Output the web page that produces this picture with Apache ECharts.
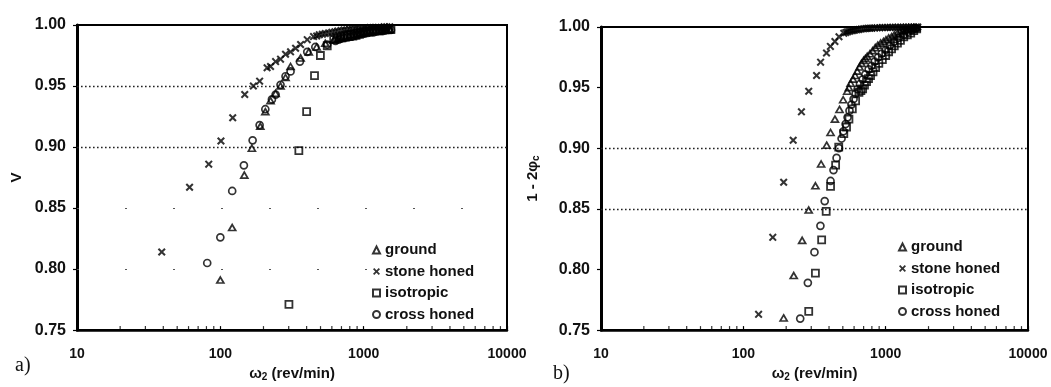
<!DOCTYPE html>
<html>
<head>
<meta charset="utf-8">
<script src="https://cdn.jsdelivr.net/npm/echarts@6/dist/echarts.min.js"></script>
<style>
  html, body { margin: 0; padding: 0; background: #fff; }
  #chart { width: 1051px; height: 387px; }
</style>
</head>
<body>
<div id="chart"></div>
<script>
// Panel a): visibility V against shaft speed ω2 (rev/min), [speed, V]
const aGround = [[100,0.791],[121,0.834],[147,0.877],[166,0.899],[190,0.917],[206,0.929],[224,0.938],[243,0.944],[263,0.950],[285,0.957],[309,0.966],[363,0.973],[414,0.978],[470,0.982],[540,0.985],[620,0.988],[660,0.9885],[700,0.989],[745,0.9895],[790,0.990],[835,0.9905],[880,0.991],[930,0.992],[980,0.993],[1030,0.9935],[1090,0.994],[1140,0.9945],[1200,0.995],[1265,0.995],[1330,0.9955],[1400,0.996],[1460,0.996],[1530,0.996]];
const aStone = [[39,0.814],[61,0.867],[83,0.886],[101,0.905],[122,0.924],[148,0.943],[170,0.950],[188,0.954],[212,0.965],[224,0.966],[243,0.970],[263,0.972],[285,0.976],[309,0.978],[335,0.981],[363,0.984],[404,0.988],[447,0.9905],[470,0.991],[490,0.992],[515,0.9925],[540,0.993],[570,0.9935],[600,0.994],[630,0.9945],[660,0.995],[695,0.9955],[730,0.996],[765,0.996],[800,0.9965],[840,0.9965],[880,0.997],[925,0.997],[970,0.997],[1015,0.9975],[1060,0.9975],[1110,0.998],[1160,0.998],[1215,0.998],[1270,0.998],[1330,0.998],[1390,0.9985],[1450,0.9985],[1520,0.9985]];
const aIso = [[301,0.771],[353,0.897],[400,0.929],[454,0.9585],[499,0.975],[557,0.983],[618,0.988],[650,0.989],[690,0.990],[730,0.991],[770,0.992],[815,0.9925],[860,0.993],[905,0.9935],[950,0.994],[1000,0.9945],[1050,0.995],[1100,0.995],[1160,0.9955],[1220,0.9955],[1290,0.996],[1350,0.996],[1420,0.996],[1490,0.9965],[1550,0.9965]];
const aCross = [[81,0.805],[100,0.826],[121,0.864],[146,0.885],[168,0.9055],[188,0.918],[206,0.931],[229,0.939],[243,0.943],[263,0.951],[285,0.958],[309,0.962],[359,0.970],[404,0.978],[460,0.982],[557,0.984],[636,0.987],[670,0.988],[700,0.989],[735,0.9895],[770,0.990],[810,0.9905],[850,0.991],[890,0.9915],[930,0.992],[975,0.9925],[1020,0.993],[1070,0.9935],[1120,0.994],[1170,0.994],[1230,0.9945],[1290,0.995],[1350,0.995],[1410,0.9955],[1480,0.996],[1550,0.996]];

// Panel b): 1 - 2φc against shaft speed ω2 (rev/min)
const bGround = [[192,0.760],[226,0.795],[259,0.824],[288,0.849],[321,0.869],[352,0.887],[385,0.9025],[410,0.913],[440,0.924],[474,0.932],[503,0.940],[537,0.947],[552,0.950],[567,0.9536],[590,0.957],[610,0.960],[632,0.9636],[655,0.967],[676,0.970],[700,0.9725],[720,0.974],[742,0.9758],[775,0.978],[809,0.9805],[845,0.983],[880,0.985],[922,0.9867],[965,0.988],[1005,0.9895],[1049,0.991],[1100,0.992],[1150,0.9935],[1207,0.9949],[1265,0.996],[1325,0.997],[1383,0.9976],[1445,0.998],[1510,0.9985],[1574,0.9989],[1640,0.9992]];
const bStone = [[128,0.763],[161,0.8265],[192,0.872],[224,0.9066],[256,0.930],[288,0.947],[327,0.960],[349,0.971],[384,0.9786],[409,0.984],[440,0.988],[470,0.992],[508,0.9948],[525,0.9955],[540,0.996],[558,0.9965],[575,0.997],[592,0.9972],[610,0.9975],[630,0.9978],[650,0.998],[675,0.9983],[700,0.9985],[725,0.9987],[750,0.999],[775,0.999],[800,0.999],[835,0.9992],[870,0.9993],[910,0.9994],[950,0.9995],[990,0.9995],[1030,0.9996],[1075,0.9996],[1120,0.9997],[1170,0.9997],[1220,0.9998],[1275,0.9998],[1330,0.9998],[1390,0.9999],[1450,0.9999],[1515,0.9999],[1580,0.9999],[1640,1.0],[1680,1.0]];
const bIso = [[288,0.7655],[321,0.797],[355,0.8244],[382,0.848],[410,0.8686],[445,0.886],[468,0.901],[508,0.912],[531,0.9175],[552,0.924],[583,0.9324],[615,0.939],[649,0.946],[670,0.9475],[689,0.949],[710,0.952],[734,0.955],[758,0.9575],[783,0.960],[815,0.963],[850,0.9666],[895,0.970],[948,0.9731],[1000,0.9765],[1049,0.9796],[1100,0.982],[1150,0.9845],[1210,0.9867],[1270,0.989],[1340,0.9919],[1420,0.9935],[1500,0.9949],[1575,0.997],[1652,0.9985]];
const bCross = [[251,0.7595],[284,0.789],[316,0.8143],[348,0.836],[373,0.8564],[410,0.873],[430,0.882],[452,0.892],[470,0.900],[490,0.908],[505,0.914],[523,0.920],[540,0.9255],[557,0.931],[575,0.936],[595,0.9406],[615,0.945],[635,0.9487],[660,0.953],[689,0.9568],[720,0.961],[759,0.965],[795,0.968],[837,0.9715],[885,0.975],[938,0.978],[1000,0.981],[1067,0.9845],[1150,0.988],[1235,0.991],[1330,0.9935],[1430,0.9959],[1525,0.9975],[1625,0.9988]];

const seriesNames = ['ground', 'stone honed', 'isotropic', 'cross honed'];
const aGuideLevels = [0.95, 0.90];
const aFaintLevels = [0.85, 0.80];
const bGuideLevels = [0.90, 0.85];
const minorTickValues = [20,30,40,50,60,70,80,90,200,300,400,500,600,700,800,900,2000,3000,4000,5000,6000,7000,8000,9000];

const FONT = '"Liberation Sans", Arial, sans-serif';
const CROSS = 'path://M0,1.8L1.8,0L5,3.2L8.2,0L10,1.8L6.8,5L10,8.2L8.2,10L5,6.8L1.8,10L0,8.2L3.2,5Z';
const HOLLOW = 'rgba(255,255,255,0)';

const symbolStyles = {
  'ground':      { symbol: 'triangle', symbolSize: [7, 6], itemStyle: { color: HOLLOW, borderColor: '#000', borderWidth: 1.7 } },
  'stone honed': { symbol: CROSS, symbolSize: 8, itemStyle: { color: '#000', borderWidth: 0 } },
  'isotropic':   { symbol: 'rect', symbolSize: 7, itemStyle: { color: HOLLOW, borderColor: '#000', borderWidth: 1.8 } },
  'cross honed': { symbol: 'circle', symbolSize: 7, itemStyle: { color: HOLLOW, borderColor: '#000', borderWidth: 1.7 } }
};

function scatter(name, data, idx) {
  const s = symbolStyles[name];
  return Object.assign({
    type: 'scatter', name: name, data: data,
    xAxisIndex: idx, yAxisIndex: idx, z: 5
  }, s);
}

function guides(levels, idx, faint) {
  return {
    type: 'line', data: [], xAxisIndex: idx, yAxisIndex: idx, silent: true,
    markLine: {
      silent: true, symbol: 'none', animation: false,
      label: { show: false },
      lineStyle: faint
        ? { color: '#555', width: 1.2, type: [2, 46] }
        : { color: '#222', width: 1.3, type: [1.6, 2.4] },
      data: levels.map(v => ({ yAxis: v }))
    }
  };
}

function minorTicks(idx) {
  return {
    type: 'scatter', xAxisIndex: idx, yAxisIndex: idx, silent: true,
    symbol: 'rect', symbolSize: [1.2, 4], symbolOffset: [0, -2],
    itemStyle: { color: '#000' }, z: 6,
    data: minorTickValues.map(v => [v, 0.75])
  };
}

function xAxis(idx) {
  return {
    type: 'log', logBase: 10, min: 10, max: 10000, gridIndex: idx,
    name: 'ω{sub|2} (rev/min)', nameLocation: 'middle', nameGap: 33,
    nameTextStyle: {
      fontFamily: FONT, fontSize: 15, fontWeight: 'bold', color: '#111',
      rich: { sub: { fontFamily: FONT, fontSize: 10, fontWeight: 'bold', color: '#111', padding: [7, 0, 0, 0] } }
    },
    axisLine: { show: true, lineStyle: { color: '#000', width: 2.5 } },
    axisTick: { show: true, inside: true, length: 4, lineStyle: { color: '#000', width: 1.2 } },
    axisLabel: { fontFamily: FONT, fontSize: 14, fontWeight: 'bold', color: '#111', margin: 17,
                 formatter: v => String(Math.round(v)) },
    splitLine: { show: false }
  };
}

function yAxis(idx, name, gap) {
  return {
    type: 'value', min: 0.75, max: 1.0, interval: 0.05, gridIndex: idx,
    name: name, nameLocation: 'middle', nameRotate: 90, nameGap: gap,
    nameTextStyle: {
      fontFamily: FONT, fontSize: 15, fontWeight: 'bold', color: '#111',
      rich: { sub: { fontFamily: FONT, fontSize: 10, fontWeight: 'bold', color: '#111', padding: [7, 0, 0, 0] } }
    },
    axisLine: { show: true, lineStyle: { color: '#000', width: 3 } },
    axisTick: { show: true, inside: false, length: 4, lineStyle: { color: '#000', width: 1.2 } },
    axisLabel: { fontFamily: FONT, fontSize: 16, fontWeight: 'bold', color: '#111', margin: 11,
                 formatter: v => v.toFixed(2) },
    splitLine: { show: false }
  };
}

function legend(left, top) {
  return {
    orient: 'vertical', left: left, top: top,
    itemWidth: 7, itemHeight: 7, itemGap: 5.5,
    data: seriesNames,
    textStyle: { fontFamily: FONT, fontSize: 15, fontWeight: 'bold', color: '#111', lineHeight: 16 },
    selectedMode: false
  };
}

const chart = echarts.init(document.getElementById('chart'), null, { renderer: 'canvas' });
chart.setOption({
  backgroundColor: '#fff',
  animation: false,
  grid: [
    { left: 77, top: 25, width: 430, height: 307, show: true, borderColor: '#000', borderWidth: 2, backgroundColor: 'transparent' },
    { left: 601, top: 27, width: 427, height: 307, show: true, borderColor: '#000', borderWidth: 2, backgroundColor: 'transparent' }
  ],
  xAxis: [xAxis(0), xAxis(1)],
  yAxis: [yAxis(0, 'V', 53), yAxis(1, '1 - 2φ{sub|c}', 60)],
  legend: [legend(367, 237), legend(893, 234)],
  series: [
    guides(aGuideLevels, 0, false),
    guides(aFaintLevels, 0, true),
    guides(bGuideLevels, 1, false),
    minorTicks(0),
    minorTicks(1),
    scatter('ground', aGround, 0),
    scatter('stone honed', aStone, 0),
    scatter('isotropic', aIso, 0),
    scatter('cross honed', aCross, 0),
    scatter('ground', bGround, 1),
    scatter('stone honed', bStone, 1),
    scatter('isotropic', bIso, 1),
    scatter('cross honed', bCross, 1)
  ],
  graphic: [
    { type: 'text', left: 15, top: 356, style: { text: 'a)', font: '20px "Liberation Serif", "DejaVu Serif", serif', fill: '#111' } },
    { type: 'text', left: 553, top: 364, style: { text: 'b)', font: '20px "Liberation Serif", "DejaVu Serif", serif', fill: '#111' } }
  ]
});
</script>
</body>
</html>
